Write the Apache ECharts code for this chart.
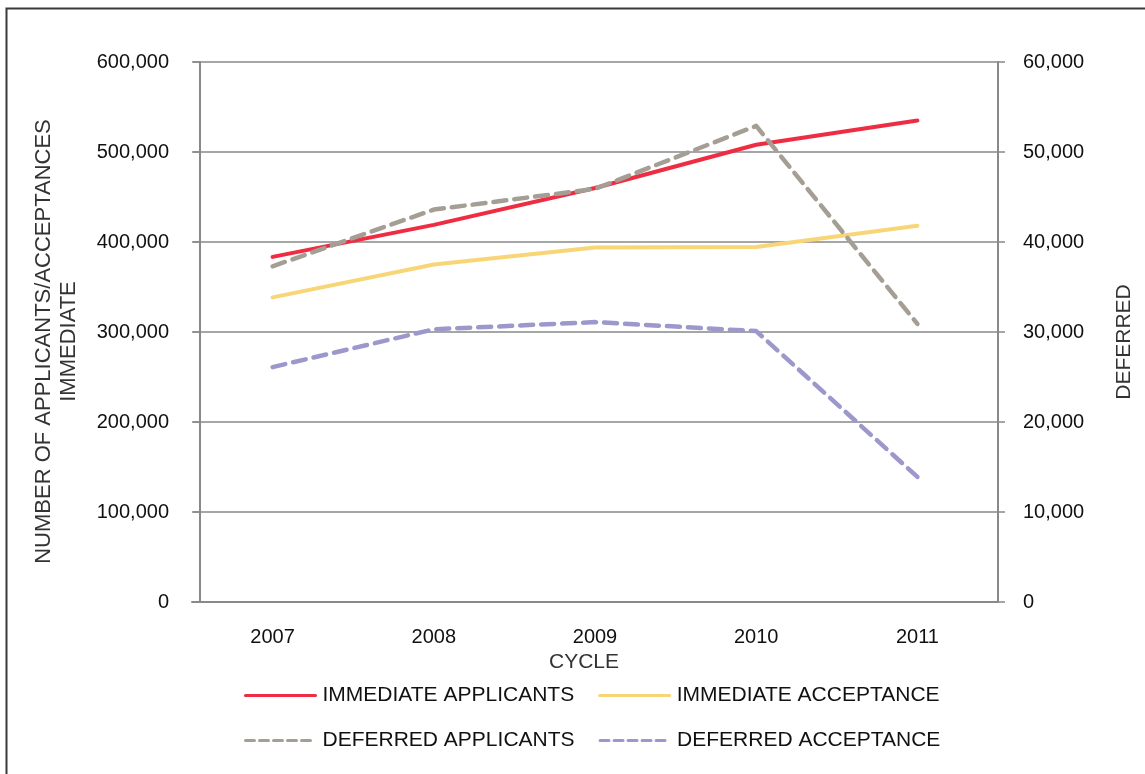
<!DOCTYPE html>
<html>
<head>
<meta charset="utf-8">
<title>Applicants and acceptances by cycle</title>
<script src="https://cdn.jsdelivr.net/npm/echarts@6/dist/echarts.min.js"></script>
<style>
  html, body { margin: 0; padding: 0; background: #fff; }
  #chart { width: 1145px; height: 774px; }
</style>
</head>
<body>
<div id="chart"></div>
<script>
// data
const cycles = ['2007', '2008', '2009', '2010', '2011']
const immediateApplicants = [383500, 419000, 460000, 508000, 535000]
const immediateAcceptance = [338500, 375000, 394000, 394500, 418000]
const deferredApplicants = [37300, 43600, 45900, 52900, 30900]
const deferredAcceptance = [26100, 30300, 31100, 30100, 13900]
const seriesNames = ['IMMEDIATE APPLICANTS', 'IMMEDIATE ACCEPTANCE', 'DEFERRED APPLICANTS', 'DEFERRED ACCEPTANCE']

const font = '"Liberation Sans", Arial, Helvetica, sans-serif'
const gridColor = '#898989'

const chart = echarts.init(document.getElementById('chart'))

function lineSeries(name, data, color, axis, dashed) {
  return {
    name: name,
    type: 'line',
    yAxisIndex: axis,
    data: data,
    symbol: 'none',
    smooth: false,
    lineStyle: {
      color: color,
      width: dashed ? 4.5 : 4,
      type: dashed ? [13, 8] : 'solid',
      cap: 'round',
      join: 'round'
    },
    itemStyle: { color: color }
  }
}

// legend samples: the dashed ones use a finer dash than the plot lines
const legendData = seriesNames.map((name, i) => {
  return i < 2 ? { name: name } : { name: name, lineStyle: { type: [9, 5] } }
})

const option = {
  backgroundColor: '#fff',
  animation: false,
  textStyle: { fontFamily: font },
  // outer frame of the original figure
  graphic: [{
    type: 'rect',
    silent: true,
    shape: { x: 6.5, y: 8.5, width: 1150, height: 780 },
    style: { fill: 'none', stroke: '#3a3a3a', lineWidth: 2 }
  }],
  grid: {
    left: 192,
    right: 147,
    top: 62,
    bottom: 172,
    containLabel: false
  },
  legend: {
    left: 244,
    top: 685,
    width: 740,
    padding: 0,
    itemWidth: 70,
    itemHeight: 14,
    itemGap: 24,
    data: legendData,
    // hide the symbol dot, keep only the line sample
    itemStyle: { opacity: 0 },
    lineStyle: { width: 3 },
    textStyle: {
      fontFamily: font,
      fontSize: 21,
      color: '#111',
      lineHeight: 20,
      padding: [0, 0, 0, 2]
    }
  },
  xAxis: {
    type: 'category',
    data: cycles,
    boundaryGap: true,
    name: 'CYCLE',
    nameLocation: 'middle',
    nameGap: 49,
    nameTextStyle: {
      fontFamily: font,
      fontSize: 21,
      color: '#333',
      padding: [0, 22, 0, 0]
    },
    axisLine: { lineStyle: { color: gridColor, width: 2 } },
    axisTick: { alignWithLabel: true, length: 6, lineStyle: { color: gridColor, width: 2 } },
    axisLabel: { margin: 25, fontSize: 20, color: '#111', fontFamily: font },
    splitLine: { show: false }
  },
  yAxis: [
    {
      type: 'value',
      position: 'left',
      offset: -8,
      min: 0,
      max: 600000,
      interval: 100000,
      name: 'NUMBER OF APPLICANTS/ACCEPTANCES\nIMMEDIATE',
      nameLocation: 'middle',
      nameRotate: 90,
      nameGap: 119,
      nameTextStyle: {
        fontFamily: font,
        fontSize: 22,
        lineHeight: 25,
        color: '#333',
        padding: [0, 19, 0, 0]
      },
      axisLine: { show: true, lineStyle: { color: gridColor, width: 2 } },
      axisTick: { show: true, length: 7, lineStyle: { color: gridColor, width: 1.5 } },
      axisLabel: { margin: 31, fontSize: 20, color: '#111', fontFamily: font },
      splitLine: { show: true, lineStyle: { color: gridColor, width: 1.5 } }
    },
    {
      type: 'value',
      position: 'right',
      min: 0,
      max: 60000,
      interval: 10000,
      name: 'DEFERRED',
      nameLocation: 'middle',
      nameRotate: 90,
      nameGap: 116,
      nameTextStyle: {
        fontFamily: font,
        fontSize: 21,
        color: '#333',
        padding: [0, 20, 0, 0]
      },
      axisLine: { show: true, lineStyle: { color: gridColor, width: 2 } },
      axisTick: { show: true, length: 7, lineStyle: { color: gridColor, width: 1.5 } },
      axisLabel: { margin: 25, fontSize: 20, color: '#111', fontFamily: font },
      splitLine: { show: false }
    }
  ],
  series: [
    lineSeries(seriesNames[0], immediateApplicants, '#ee2d43', 0, false),
    lineSeries(seriesNames[1], immediateAcceptance, '#f8d677', 0, false),
    lineSeries(seriesNames[2], deferredApplicants, '#a59e95', 1, true),
    lineSeries(seriesNames[3], deferredAcceptance, '#9c98cb', 1, true)
  ]
}

chart.setOption(option)
</script>
</body>
</html>
